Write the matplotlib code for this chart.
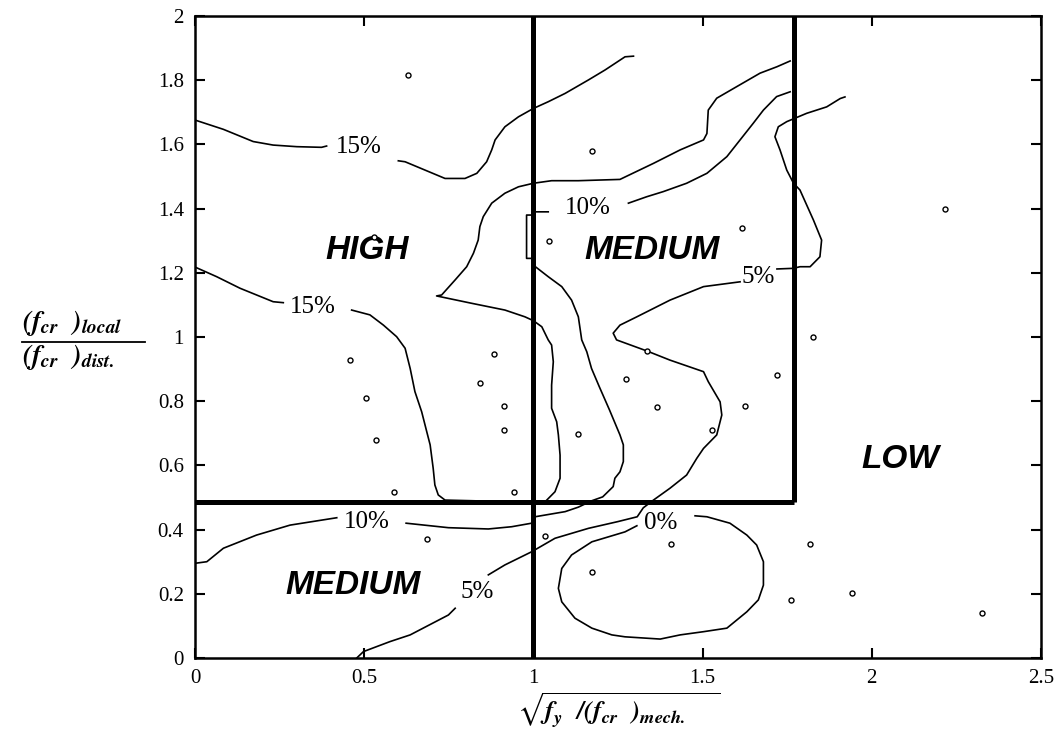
import matplotlib
matplotlib.use('Agg')
import matplotlib.pyplot as plt
from matplotlib.lines import Line2D

plt.rcParams['mathtext.fontset'] = 'stix'

# 15% contour, upper branch (split by its label)
c15_up_a_x = [0.0, 0.084, 0.172, 0.231, 0.301, 0.374, 0.389]
c15_up_a_y = [1.676, 1.647, 1.609, 1.598, 1.593, 1.591, 1.595]
c15_up_b_x = [0.601, 0.621, 0.739, 0.798, 0.833, 0.862, 0.877, 0.887, 0.916, 0.956, 1.0, 1.044, 1.094, 1.163, 1.212, 1.271, 1.296]
c15_up_b_y = [1.549, 1.546, 1.494, 1.494, 1.510, 1.546, 1.583, 1.614, 1.655, 1.686, 1.712, 1.733, 1.759, 1.801, 1.832, 1.873, 1.875]

# 15% contour, lower branch
c15_lo_a_x = [0.0, 0.064, 0.133, 0.231, 0.261]
c15_lo_a_y = [1.218, 1.188, 1.152, 1.110, 1.107]
c15_lo_b_x = [0.463, 0.517, 0.557, 0.596, 0.621, 0.636, 0.650, 0.670, 0.685, 0.695, 0.704, 0.709, 0.719, 0.739, 0.818, 0.916, 1.0, 1.035,
              1.064, 1.079, 1.079, 1.074, 1.069, 1.054, 1.054, 1.059, 1.054, 1.044, 1.025, 1.0, 0.975, 0.916, 0.818, 0.714,
              0.729, 0.769, 0.803, 0.823, 0.837, 0.842, 0.852, 0.877, 0.916, 0.956, 1.0, 1.054, 1.133, 1.256, 1.355, 1.434,
              1.503, 1.513, 1.517, 1.542, 1.601, 1.670, 1.720, 1.759]
c15_lo_b_y = [1.084, 1.069, 1.037, 1.001, 0.965, 0.902, 0.830, 0.767, 0.705, 0.664, 0.591, 0.539, 0.508, 0.492, 0.490, 0.487, 0.486, 0.487,
              0.518, 0.560, 0.632, 0.695, 0.736, 0.778, 0.850, 0.923, 0.975, 0.991, 1.032, 1.051, 1.063, 1.084, 1.105, 1.128,
              1.131, 1.178, 1.219, 1.261, 1.302, 1.344, 1.375, 1.417, 1.448, 1.468, 1.479, 1.487, 1.487, 1.491, 1.541, 1.583,
              1.614, 1.634, 1.707, 1.744, 1.780, 1.822, 1.842, 1.860]

# 10% contour
c10_a_x = [0.0, 0.035, 0.084, 0.182, 0.281, 0.419]
c10_a_y = [0.295, 0.300, 0.342, 0.383, 0.414, 0.437]
c10_b_x = [0.624, 0.749, 0.867, 0.936, 0.995, 1.005, 1.094, 1.133, 1.173, 1.205, 1.236, 1.241, 1.256, 1.266, 1.266, 1.256,
           1.225, 1.195, 1.172, 1.158, 1.143, 1.133, 1.113, 1.084, 1.044, 1.0, 1.0, 0.98, 0.98, 1.0, 1.0, 1.044]
c10_b_y = [0.420, 0.406, 0.402, 0.409, 0.420, 0.440, 0.456, 0.470, 0.490, 0.502, 0.534, 0.560, 0.580, 0.612, 0.664, 0.695,
           0.773, 0.845, 0.902, 0.954, 0.991, 1.063, 1.115, 1.157, 1.188, 1.224, 1.245, 1.245, 1.380, 1.380, 1.390, 1.390]
c10_c_x = [1.281, 1.335, 1.384, 1.453, 1.513, 1.572, 1.611, 1.650, 1.680, 1.719, 1.759]
c10_c_y = [1.417, 1.437, 1.453, 1.479, 1.510, 1.562, 1.614, 1.666, 1.707, 1.749, 1.764]

# 5% contour
c5_a_x = [0.478, 0.498, 0.576, 0.636, 0.749, 0.769]
c5_a_y = [0.0, 0.020, 0.051, 0.072, 0.134, 0.155]
c5_b_x = [0.867, 0.916, 0.995, 1.064, 1.163, 1.250, 1.307, 1.325, 1.355, 1.404, 1.453, 1.483, 1.503, 1.542, 1.557, 1.552, 1.517,
          1.503, 1.404, 1.337, 1.246, 1.236, 1.256, 1.306, 1.404, 1.503, 1.611]
c5_b_y = [0.259, 0.290, 0.331, 0.373, 0.404, 0.425, 0.440, 0.468, 0.492, 0.529, 0.570, 0.622, 0.653, 0.695, 0.757, 0.798, 0.861,
          0.892, 0.928, 0.956, 0.991, 1.012, 1.037, 1.063, 1.115, 1.157, 1.172]
c5_c_x = [1.720, 1.769, 1.788, 1.818, 1.847, 1.852, 1.828, 1.788, 1.769, 1.749, 1.729, 1.714, 1.724, 1.749, 1.808, 1.867, 1.907, 1.921]
c5_c_y = [1.212, 1.214, 1.219, 1.219, 1.250, 1.302, 1.364, 1.458, 1.479, 1.520, 1.583, 1.624, 1.655, 1.671, 1.697, 1.717, 1.743, 1.748]

# 0% contour (closed loop, opened at its label)
c0_x = [1.478, 1.513, 1.581, 1.631, 1.660, 1.680, 1.680, 1.665, 1.631, 1.572, 1.503, 1.434, 1.375, 1.271, 1.232, 1.173,
        1.123, 1.084, 1.074, 1.084, 1.113, 1.173, 1.271, 1.306]
c0_y = [0.443, 0.440, 0.420, 0.383, 0.352, 0.300, 0.227, 0.181, 0.144, 0.093, 0.082, 0.072, 0.059, 0.066, 0.072, 0.093,
        0.124, 0.175, 0.217, 0.279, 0.321, 0.362, 0.393, 0.412]

# data points
pts_x = [0.630, 1.172, 0.528, 1.046, 1.616, 2.216, 1.826, 0.459, 0.883, 0.842, 0.913, 0.913, 0.943, 0.506, 0.535, 0.587,
         1.133, 0.686, 1.035, 1.174, 1.274, 1.366, 1.529, 1.627, 1.720, 1.337, 1.406, 1.819, 1.761, 1.943, 2.325]
pts_y = [1.816, 1.580, 1.311, 1.299, 1.339, 1.398, 0.999, 0.928, 0.946, 0.858, 0.786, 0.709, 0.516, 0.810, 0.680, 0.516,
         0.699, 0.370, 0.380, 0.269, 0.869, 0.781, 0.709, 0.786, 0.881, 0.956, 0.355, 0.356, 0.180, 0.202, 0.139]

# contour labels
lab_text = ['15%', '15%', '10%', '10%', '5%', '5%', '0%']
lab_x = [0.483, 0.347, 1.160, 0.509, 1.665, 0.833, 1.375]
lab_y = [1.593, 1.094, 1.401, 0.425, 1.188, 0.207, 0.420]

# regions
reg_text = ['HIGH', 'MEDIUM', 'MEDIUM', 'LOW']
reg_x = [0.508, 1.351, 0.467, 2.084]
reg_y = [1.271, 1.271, 0.227, 0.617]

x_split = 1.0
x_split2 = 1.77
y_split = 0.485

fig = plt.figure(figsize=(10.62, 7.39), dpi=100)
ax = fig.add_axes([0.1836, 0.1096, 0.7965, 0.8687])

lw = 1.2
for xs, ys in [(c15_up_a_x, c15_up_a_y), (c15_up_b_x, c15_up_b_y), (c15_lo_a_x, c15_lo_a_y), (c15_lo_b_x, c15_lo_b_y),
               (c10_a_x, c10_a_y), (c10_b_x, c10_b_y), (c10_c_x, c10_c_y),
               (c5_a_x, c5_a_y), (c5_b_x, c5_b_y), (c5_c_x, c5_c_y), (c0_x, c0_y)]:
    ax.plot(xs, ys, color='black', lw=lw, solid_joinstyle='round')

ax.plot(pts_x, pts_y, 'o', ms=3.6, mfc='white', mec='black', mew=1.0, zorder=4)

for t, x, y in zip(lab_text, lab_x, lab_y):
    ax.text(x, y, t, fontsize=18, family='Liberation Serif', ha='center', va='center')

for t, x, y in zip(reg_text, reg_x, reg_y):
    ax.text(x, y, t, fontsize=24, family='Liberation Sans', weight='bold', style='italic', ha='center', va='center')

# region boundaries
ax.plot([x_split, x_split], [0, 2], color='black', lw=3.6, solid_capstyle='round', zorder=5)
ax.plot([x_split2, x_split2], [y_split, 2], color='black', lw=3.6, solid_capstyle='butt', zorder=5)
ax.plot([0, x_split2], [y_split, y_split], color='black', lw=3.6, solid_capstyle='butt', zorder=5)

ax.set_xlim(0, 2.5)
ax.set_ylim(0, 2)
ax.set_xticks([0, 0.5, 1, 1.5, 2, 2.5])
ax.set_yticks([0, 0.2, 0.4, 0.6, 0.8, 1, 1.2, 1.4, 1.6, 1.8, 2])
ax.set_xticklabels(['0', '0.5', '1', '1.5', '2', '2.5'])
ax.set_yticklabels(['0', '0.2', '0.4', '0.6', '0.8', '1', '1.2', '1.4', '1.6', '1.8', '2'])
ax.tick_params(direction='in', length=7, width=1.5, top=True, right=True, labelsize=15, pad=8)
for lbl in ax.get_xticklabels() + ax.get_yticklabels():
    lbl.set_family('Liberation Serif')
for s in ax.spines.values():
    s.set_linewidth(1.8)

# axis titles
fig.text(22 / 1062, 1 - 323 / 739, r'$\mathbfit{(f}_{\mathbfit{cr}}\ \ \mathbfit{)}_{\mathbfit{local}}$', fontsize=20, ha='left', va='center')
fig.text(22 / 1062, 1 - 357 / 739, r'$\mathbfit{(f}_{\mathbfit{cr}}\ \ \mathbfit{)}_{\mathbfit{dist.}}$', fontsize=20, ha='left', va='center')
fig.add_artist(Line2D([22 / 1062, 145 / 1062], [1 - 342 / 739, 1 - 342 / 739], color='black', lw=1.3))
fig.text(0.582, 1 - 710 / 739, r'$\sqrt{\mathbfit{f}_{\mathbfit{y}}\ \ \mathbfit{/(f}_{\mathbfit{cr}}\ \ \mathbfit{)}_{\mathbfit{mech.}}\quad\ }$', fontsize=19, ha='center', va='center')

fig.savefig('out.png', dpi=100)
